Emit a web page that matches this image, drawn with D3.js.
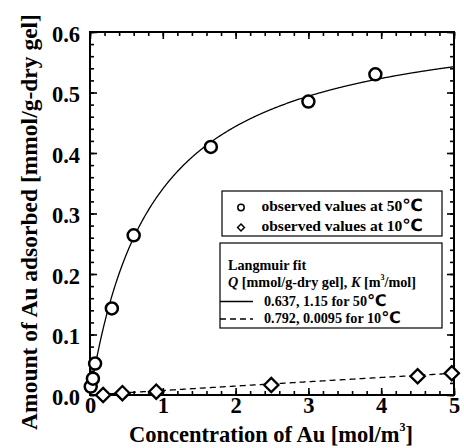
<!DOCTYPE html>
<html>
<head>
<meta charset="utf-8">
<script src="https://cdn.jsdelivr.net/npm/d3@7"></script>
<style>
  body { margin: 0; background: #fff; }
  text { font-family: 'Liberation Serif', 'Times New Roman', serif; font-weight: bold; }
  .deg { font-family: 'DejaVu Sans', sans-serif; font-weight: bold; }
</style>
</head>
<body>
<div id="chart"></div>
<script>
// observed values, 50 degC
const conc50 = [0.01, 0.04, 0.07, 0.3, 0.6, 1.66, 3.0, 3.92]
const q50 = [0.014, 0.027, 0.052, 0.143, 0.264, 0.41, 0.485, 0.53]
// observed values, 10 degC
const conc10 = [0.18, 0.445, 0.91, 2.49, 4.5, 4.97]
const q10 = [0.0, 0.003, 0.0055, 0.0165, 0.031, 0.036]
// Langmuir fit parameters [Q, K]
const fit50 = [0.637, 1.15]
const fit10 = [0.792, 0.0095]
const xTicks = [0, 1, 2, 3, 4, 5]
const yTicks = [0, 0.1, 0.2, 0.3, 0.4, 0.5, 0.6]

const width = 464
const height = 448
const margin = { top: 32, right: 10, bottom: 53, left: 90 }

const svg = d3
  .select('#chart')
  .append('svg')
  .attr('width', width)
  .attr('height', height)

const x = d3.scaleLinear().domain([0, 5]).range([margin.left, width - margin.right])
const y = d3.scaleLinear().domain([0, 0.6]).range([height - margin.bottom, margin.top])

const langmuir = ([Q, K]) => (c) => (Q * K * c) / (1 + K * c)

// minor + major ticks on all four sides, pointing inward
const addAxis = (axisFn, scale, ticks, size, transform, fmt) => {
  const ax = axisFn(scale).tickValues(ticks).tickSize(-size).tickFormat(fmt || '')
  const g = svg.append('g').attr('transform', transform).call(ax)
  g.select('.domain').remove()
  g.selectAll('line').attr('stroke-width', 1.6)
  g.selectAll('text')
    .attr('font-size', 22.5)
    .attr('fill', '#000')
    .attr('font-family', "'Liberation Serif', serif")
  return g
}

const xMinor = d3.range(0, 5.001, 0.2)
const yMinor = d3.range(0, 0.6001, 0.02)
const atBottom = `translate(0,${height - margin.bottom})`
const atTop = `translate(0,${margin.top})`
const atLeft = `translate(${margin.left},0)`
const atRight = `translate(${width - margin.right},0)`

addAxis(d3.axisBottom, x, xMinor, 4, atBottom)
addAxis(d3.axisTop, x, xMinor, 4, atTop)
addAxis(d3.axisTop, x, xTicks, 7, atTop)
addAxis(d3.axisLeft, y, yMinor, 4, atLeft)
addAxis(d3.axisRight, y, yMinor, 4, atRight)
addAxis(d3.axisRight, y, yTicks, 7, atRight)

addAxis(d3.axisBottom, x, xTicks, 7, atBottom, d3.format('d'))
  .selectAll('text').attr('y', 2)

addAxis(d3.axisLeft, y, yTicks, 7, atLeft, d3.format('.1f'))
  .selectAll('text').attr('x', -10).attr('dy', '0.4em')

// frame
svg
  .append('rect')
  .attr('x', margin.left)
  .attr('y', margin.top)
  .attr('width', width - margin.left - margin.right)
  .attr('height', height - margin.top - margin.bottom)
  .attr('fill', 'none')
  .attr('stroke', '#000')
  .attr('stroke-width', 2)

// fit curves
const cs = d3.range(0, 5.0001, 0.01)
const line = (f) => d3.line().x((c) => x(c)).y((c) => y(f(c)))

svg.append('path')
  .attr('d', line(langmuir(fit50))(cs))
  .attr('fill', 'none').attr('stroke', '#000').attr('stroke-width', 1.3)

svg.append('path')
  .attr('d', line(langmuir(fit10))(cs))
  .attr('fill', 'none').attr('stroke', '#000').attr('stroke-width', 1.3)
  .attr('stroke-dasharray', '6,4')

// markers
svg.selectAll('circle.obs')
  .data(conc50)
  .enter()
  .append('circle')
  .attr('class', 'obs')
  .attr('cx', (d) => x(d))
  .attr('cy', (d, i) => y(q50[i]))
  .attr('r', 6)
  .attr('fill', '#fff')
  .attr('stroke', '#000')
  .attr('stroke-width', 2.5)

const diamond = d3.symbol().type(d3.symbolDiamond2).size(130)
svg.selectAll('path.obs')
  .data(conc10)
  .enter()
  .append('path')
  .attr('class', 'obs')
  .attr('d', diamond)
  .attr('transform', (d, i) => `translate(${x(d)},${y(q10[i])})`)
  .attr('fill', '#fff')
  .attr('stroke', '#000')
  .attr('stroke-width', 2.3)

// axis titles
const xTitle = svg.append('text')
  .attr('x', 271)
  .attr('y', 442)
  .attr('text-anchor', 'middle')
  .attr('font-size', 22.5)
  .text('Concentration of Au [mol/m')
xTitle.append('tspan').attr('font-size', 12).attr('dy', -11).text('3')
xTitle.append('tspan').attr('dy', 11).text(']')

svg.append('text')
  .attr('transform', 'translate(37,222) rotate(-90)')
  .attr('text-anchor', 'middle')
  .attr('font-size', 23.5)
  .text('Amount of Au adsorbed [mmol/g-dry gel]')

// legend 1: observed values
const lg1 = svg.append('g')
lg1.append('rect')
  .attr('x', 222).attr('y', 191).attr('width', 220).attr('height', 45)
  .attr('fill', '#fff').attr('stroke', '#000').attr('stroke-width', 1.2)

const obsLabels = ['observed values at 50', 'observed values at 10']
obsLabels.forEach((t, i) => {
  const yy = 207.5 + i * 20
  if (i === 0) {
    lg1.append('circle').attr('cx', 241).attr('cy', yy).attr('r', 3.2)
      .attr('fill', '#fff').attr('stroke', '#000').attr('stroke-width', 1.5)
  } else {
    lg1.append('path').attr('d', d3.symbol().type(d3.symbolDiamond2).size(30))
      .attr('transform', `translate(241,${yy})`)
      .attr('fill', '#fff').attr('stroke', '#000').attr('stroke-width', 1.5)
  }
  const tx = lg1.append('text').attr('x', 261.5).attr('y', yy + 3.5).attr('font-size', 15.5).text(t)
  tx.append('tspan').attr('class', 'deg').attr('font-size', 17).text('\u2103')
})

// legend 2: Langmuir fit
const lg2 = svg.append('g')
lg2.append('rect')
  .attr('x', 220).attr('y', 243).attr('width', 222).attr('height', 85)
  .attr('fill', '#fff').attr('stroke', '#000').attr('stroke-width', 1.2)

lg2.append('text').attr('x', 228).attr('y', 270).attr('font-size', 14.2).text('Langmuir fit')

const qk = lg2.append('text').attr('x', 228).attr('y', 287).attr('font-size', 14.2)
qk.append('tspan').attr('font-style', 'italic').text('Q')
qk.append('tspan').text(' [mmol/g-dry gel], ')
qk.append('tspan').attr('font-style', 'italic').text('K')
qk.append('tspan').text(' [m')
qk.append('tspan').attr('font-size', 8).attr('dy', -7).text('3')
qk.append('tspan').attr('dy', 7).text('/mol]')

const fitLabels = [`${fit50[0]}, ${fit50[1]} for 50`, `${fit10[0]}, ${fit10[1]} for 10`]
fitLabels.forEach((t, i) => {
  const yy = 301.5 + i * 17.5
  lg2.append('line')
    .attr('x1', 220).attr('x2', 253).attr('y1', yy).attr('y2', yy)
    .attr('stroke', '#000').attr('stroke-width', 1.3)
    .attr('stroke-dasharray', i === 0 ? null : '6,4')
  const tx = lg2.append('text').attr('x', 264).attr('y', yy + 4).attr('font-size', 14.2).text(t)
  tx.append('tspan').attr('class', 'deg').attr('font-size', 16).text('\u2103')
})
</script>
</body>
</html>
